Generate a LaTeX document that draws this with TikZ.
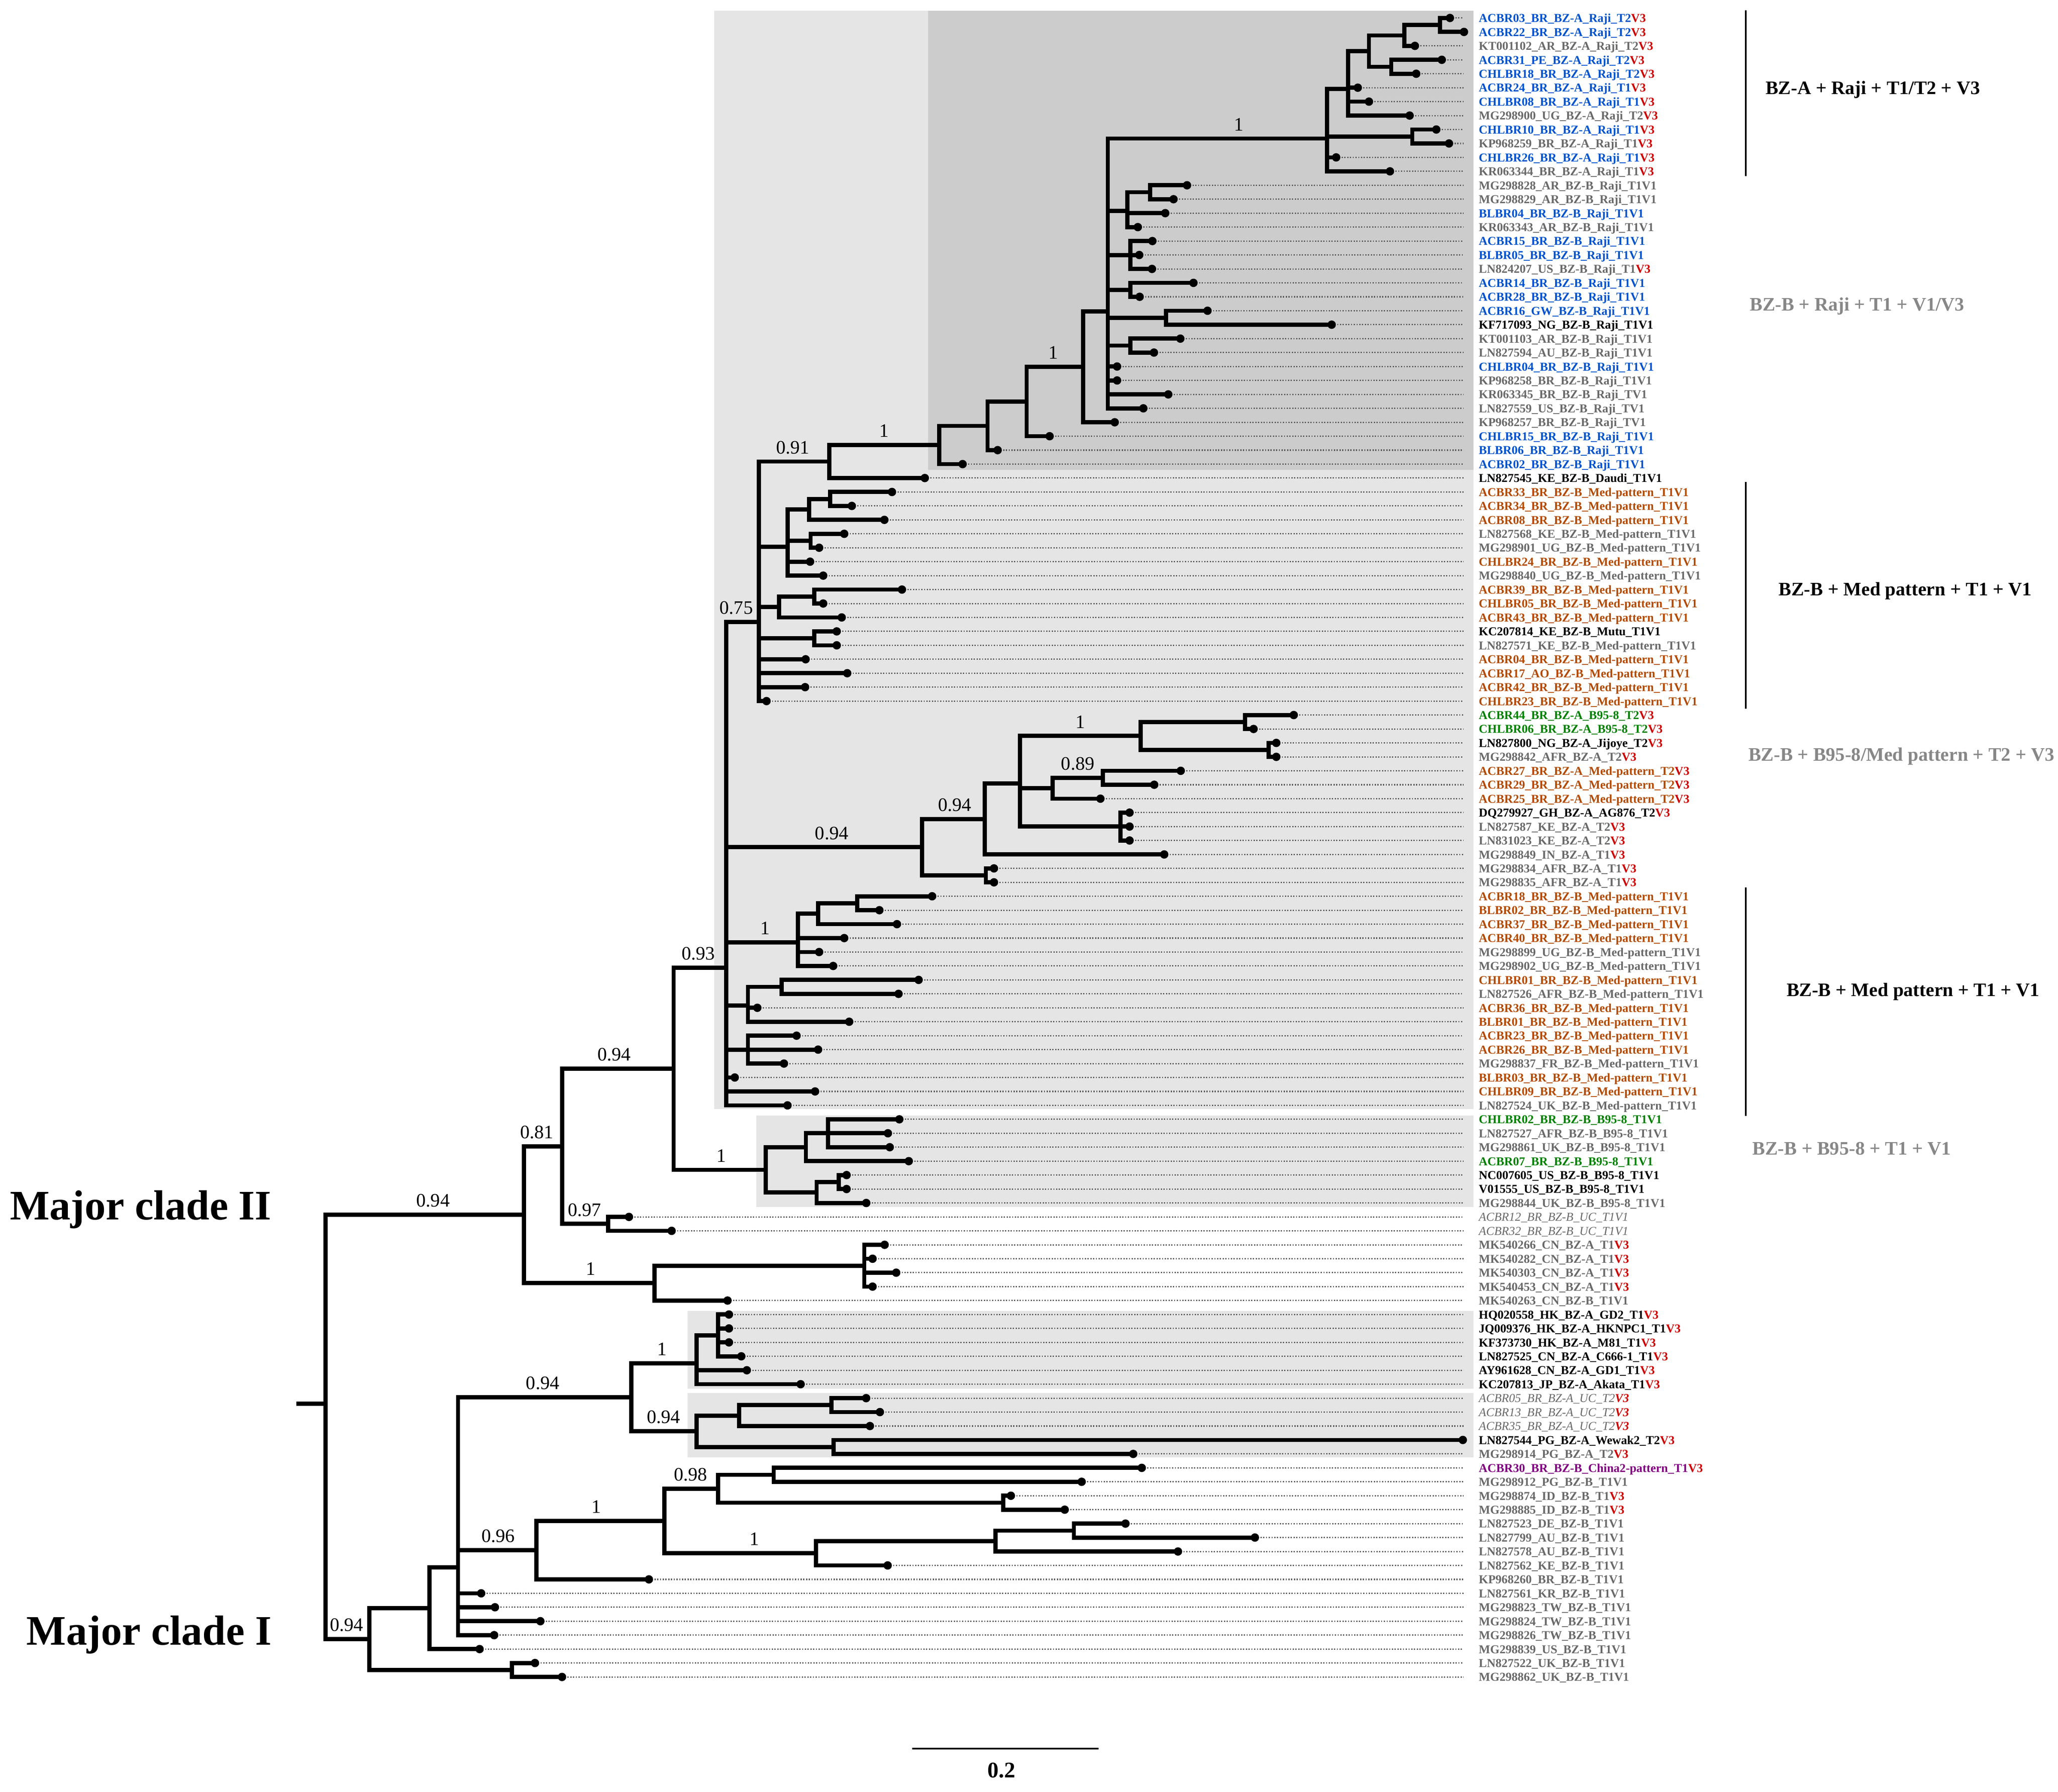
\documentclass[tikz,border=0pt]{standalone}
\usepackage{fontspec}
\setmainfont{Liberation Serif}
\definecolor{cblue}{RGB}{0,82,204}
\definecolor{cgray}{RGB}{105,105,105}
\definecolor{corange}{RGB}{178,74,4}
\definecolor{cgreen}{RGB}{0,128,0}
\definecolor{cpurple}{RGB}{128,0,128}
\definecolor{cred}{RGB}{206,0,0}
\definecolor{anngray}{RGB}{135,135,135}
\definecolor{boxlight}{RGB}{229,229,229}
\definecolor{boxdark}{RGB}{204,204,204}
\tikzset{
 br/.style={line width=3.2pt, line join=miter, line cap=butt},
 dotln/.style={black!65, line width=1pt, dash pattern=on 0.9pt off 1.2pt},
 lab/.style={anchor=base west, inner sep=0pt, font=\bfseries\fontsize{9.2}{10}\selectfont},
 lblue/.style={text=cblue},
 lgray/.style={text=cgray},
 lblack/.style={text=black},
 lorange/.style={text=corange},
 lgreen/.style={text=cgreen},
 lpurple/.style={text=cpurple},
 luc/.style={text=cgray, font=\itshape\fontsize{9.2}{10}\selectfont},
 bsl/.style={anchor=base, inner sep=0pt, font=\fontsize{14.5}{16}\selectfont},
 ann/.style={anchor=base west, inner sep=0pt, font=\bfseries\fontsize{14.5}{16}\selectfont},
 annbar/.style={line width=1.4pt},
 majlab/.style={anchor=base east, inner sep=0pt, font=\bfseries\fontsize{32}{38}\selectfont},
}
\newcommand\myRedV{\textcolor{cred}{\bfseries V3}}
\newcommand\leafx[4]{%
  \coordinate (l#1) at (#2,{13.7+(#1-1)*10.62});
  \coordinate (de#1) at (1115,{13.7+(#1-1)*10.62});
  \draw[dotln] (l#1) -- (de#1);
  \node[lab,#3] (lab#1) at (1126.5,{13.7+(#1-1)*10.62+3.2}) {#4};
}
\newcommand\innode[3]{\coordinate (#1) at (#2,{13.7+(#3-1)*10.62});}
\newcommand\brs[2]{\foreach \kid in {#2}{\draw[br] (#1) |- (\kid);}}
\newcommand\bslab[4]{\node[bsl] (#1) at (#2,{13.7+(#3-1)*10.62-6}) {#4};}
\begin{document}
\catcode`\_=12
\begin{tikzpicture}[x=1pt,y=-1pt]
\fill[white] (0,0) rectangle (1568,1365);
\path[use as bounding box] (0,0) rectangle (1568,1365);
% shaded clade boxes
\fill[boxlight] (544,8.2) rectangle (1122.5,844.9);
\fill[boxdark] (707,8.2) rectangle (1122.5,358);
\fill[boxlight] (576.2,849.6) rectangle (1122.5,919.6);
\fill[boxlight] (524,998.5) rectangle (1122.5,1058);
\fill[boxlight] (524,1061.2) rectangle (1122.5,1110.3);
% leaves
\leafx{1}{1104.7}{lblue}{ACBR03_BR_BZ-A_Raji_T2\myRedV}
\leafx{2}{1115.4}{lblue}{ACBR22_BR_BZ-A_Raji_T2\myRedV}
\leafx{3}{1078}{lgray}{KT001102_AR_BZ-A_Raji_T2\myRedV}
\leafx{4}{1098.5}{lblue}{ACBR31_PE_BZ-A_Raji_T2\myRedV}
\leafx{5}{1079}{lblue}{CHLBR18_BR_BZ-A_Raji_T2\myRedV}
\leafx{6}{1034.5}{lblue}{ACBR24_BR_BZ-A_Raji_T1\myRedV}
\leafx{7}{1043}{lblue}{CHLBR08_BR_BZ-A_Raji_T1\myRedV}
\leafx{8}{1074}{lgray}{MG298900_UG_BZ-A_Raji_T2\myRedV}
\leafx{9}{1094.3}{lblue}{CHLBR10_BR_BZ-A_Raji_T1\myRedV}
\leafx{10}{1104}{lgray}{KP968259_BR_BZ-A_Raji_T1\myRedV}
\leafx{11}{1018}{lblue}{CHLBR26_BR_BZ-A_Raji_T1\myRedV}
\leafx{12}{1059}{lgray}{KR063344_BR_BZ-A_Raji_T1\myRedV}
\leafx{13}{904.4}{lgray}{MG298828_AR_BZ-B_Raji_T1V1}
\leafx{14}{894.1}{lgray}{MG298829_AR_BZ-B_Raji_T1V1}
\leafx{15}{887.8}{lblue}{BLBR04_BR_BZ-B_Raji_T1V1}
\leafx{16}{866.9}{lgray}{KR063343_AR_BZ-B_Raji_T1V1}
\leafx{17}{878}{lblue}{ACBR15_BR_BZ-B_Raji_T1V1}
\leafx{18}{868}{lblue}{BLBR05_BR_BZ-B_Raji_T1V1}
\leafx{19}{877.7}{lgray}{LN824207_US_BZ-B_Raji_T1\myRedV}
\leafx{20}{909.3}{lblue}{ACBR14_BR_BZ-B_Raji_T1V1}
\leafx{21}{868.3}{lblue}{ACBR28_BR_BZ-B_Raji_T1V1}
\leafx{22}{920}{lblue}{ACBR16_GW_BZ-B_Raji_T1V1}
\leafx{23}{1014.6}{lblack}{KF717093_NG_BZ-B_Raji_T1V1}
\leafx{24}{899.3}{lgray}{KT001103_AR_BZ-B_Raji_T1V1}
\leafx{25}{879.2}{lgray}{LN827594_AU_BZ-B_Raji_T1V1}
\leafx{26}{851.1}{lblue}{CHLBR04_BR_BZ-B_Raji_T1V1}
\leafx{27}{851.1}{lgray}{KP968258_BR_BZ-B_Raji_T1V1}
\leafx{28}{890.1}{lgray}{KR063345_BR_BZ-B_Raji_TV1}
\leafx{29}{871.1}{lgray}{LN827559_US_BZ-B_Raji_TV1}
\leafx{30}{849.3}{lgray}{KP968257_BR_BZ-B_Raji_TV1}
\leafx{31}{799.7}{lblue}{CHLBR15_BR_BZ-B_Raji_T1V1}
\leafx{32}{760.1}{lblue}{BLBR06_BR_BZ-B_Raji_T1V1}
\leafx{33}{733.4}{lblue}{ACBR02_BR_BZ-B_Raji_T1V1}
\leafx{34}{704.6}{lblack}{LN827545_KE_BZ-B_Daudi_T1V1}
\leafx{35}{679.6}{lorange}{ACBR33_BR_BZ-B_Med-pattern_T1V1}
\leafx{36}{649}{lorange}{ACBR34_BR_BZ-B_Med-pattern_T1V1}
\leafx{37}{673.8}{lorange}{ACBR08_BR_BZ-B_Med-pattern_T1V1}
\leafx{38}{643.2}{lgray}{LN827568_KE_BZ-B_Med-pattern_T1V1}
\leafx{39}{624.1}{lgray}{MG298901_UG_BZ-B_Med-pattern_T1V1}
\leafx{40}{617.2}{lorange}{CHLBR24_BR_BZ-B_Med-pattern_T1V1}
\leafx{41}{627.2}{lgray}{MG298840_UG_BZ-B_Med-pattern_T1V1}
\leafx{42}{687.2}{lorange}{ACBR39_BR_BZ-B_Med-pattern_T1V1}
\leafx{43}{627.2}{lorange}{CHLBR05_BR_BZ-B_Med-pattern_T1V1}
\leafx{44}{641.3}{lorange}{ACBR43_BR_BZ-B_Med-pattern_T1V1}
\leafx{45}{637.5}{lblack}{KC207814_KE_BZ-B_Mutu_T1V1}
\leafx{46}{637.5}{lgray}{LN827571_KE_BZ-B_Med-pattern_T1V1}
\leafx{47}{613.8}{lorange}{ACBR04_BR_BZ-B_Med-pattern_T1V1}
\leafx{48}{645.5}{lorange}{ACBR17_AO_BZ-B_Med-pattern_T1V1}
\leafx{49}{613.4}{lorange}{ACBR42_BR_BZ-B_Med-pattern_T1V1}
\leafx{50}{584}{lorange}{CHLBR23_BR_BZ-B_Med-pattern_T1V1}
\leafx{51}{985.7}{lgreen}{ACBR44_BR_BZ-A_B95-8_T2\myRedV}
\leafx{52}{955.1}{lgreen}{CHLBR06_BR_BZ-A_B95-8_T2\myRedV}
\leafx{53}{972.4}{lblack}{LN827800_NG_BZ-A_Jijoye_T2\myRedV}
\leafx{54}{972.4}{lgray}{MG298842_AFR_BZ-A_T2\myRedV}
\leafx{55}{899.6}{lorange}{ACBR27_BR_BZ-A_Med-pattern_T2\myRedV}
\leafx{56}{879.4}{lorange}{ACBR29_BR_BZ-A_Med-pattern_T2\myRedV}
\leafx{57}{838.4}{lorange}{ACBR25_BR_BZ-A_Med-pattern_T2\myRedV}
\leafx{58}{860.6}{lblack}{DQ279927_GH_BZ-A_AG876_T2\myRedV}
\leafx{59}{860.6}{lgray}{LN827587_KE_BZ-A_T2\myRedV}
\leafx{60}{860.6}{lgray}{LN831023_KE_BZ-A_T2\myRedV}
\leafx{61}{887}{lgray}{MG298849_IN_BZ-A_T1\myRedV}
\leafx{62}{757.3}{lgray}{MG298834_AFR_BZ-A_T1\myRedV}
\leafx{63}{757.3}{lgray}{MG298835_AFR_BZ-A_T1\myRedV}
\leafx{64}{710.2}{lorange}{ACBR18_BR_BZ-B_Med-pattern_T1V1}
\leafx{65}{670}{lorange}{BLBR02_BR_BZ-B_Med-pattern_T1V1}
\leafx{66}{683.4}{lorange}{ACBR37_BR_BZ-B_Med-pattern_T1V1}
\leafx{67}{643.2}{lorange}{ACBR40_BR_BZ-B_Med-pattern_T1V1}
\leafx{68}{624.1}{lgray}{MG298899_UG_BZ-B_Med-pattern_T1V1}
\leafx{69}{634.8}{lgray}{MG298902_UG_BZ-B_Med-pattern_T1V1}
\leafx{70}{699.9}{lorange}{CHLBR01_BR_BZ-B_Med-pattern_T1V1}
\leafx{71}{684.6}{lgray}{LN827526_AFR_BZ-B_Med-pattern_T1V1}
\leafx{72}{577}{lorange}{ACBR36_BR_BZ-B_Med-pattern_T1V1}
\leafx{73}{647}{lorange}{BLBR01_BR_BZ-B_Med-pattern_T1V1}
\leafx{74}{606.9}{lorange}{ACBR23_BR_BZ-B_Med-pattern_T1V1}
\leafx{75}{623.3}{lorange}{ACBR26_BR_BZ-B_Med-pattern_T1V1}
\leafx{76}{597.3}{lgray}{MG298837_FR_BZ-B_Med-pattern_T1V1}
\leafx{77}{559.8}{lorange}{BLBR03_BR_BZ-B_Med-pattern_T1V1}
\leafx{78}{621}{lorange}{CHLBR09_BR_BZ-B_Med-pattern_T1V1}
\leafx{79}{600}{lgray}{LN827524_UK_BZ-B_Med-pattern_T1V1}
\leafx{80}{685.2}{lgreen}{CHLBR02_BR_BZ-B_B95-8_T1V1}
\leafx{81}{676.5}{lgray}{LN827527_AFR_BZ-B_B95-8_T1V1}
\leafx{82}{677.9}{lgray}{MG298861_UK_BZ-B_B95-8_T1V1}
\leafx{83}{692.4}{lgreen}{ACBR07_BR_BZ-B_B95-8_T1V1}
\leafx{84}{645}{lblack}{NC007605_US_BZ-B_B95-8_T1V1}
\leafx{85}{645}{lblack}{V01555_US_BZ-B_B95-8_T1V1}
\leafx{86}{660}{lgray}{MG298844_UK_BZ-B_B95-8_T1V1}
\leafx{87}{479.2}{luc}{ACBR12_BR_BZ-B_UC_T1V1}
\leafx{88}{511.7}{luc}{ACBR32_BR_BZ-B_UC_T1V1}
\leafx{89}{674}{lgray}{MK540266_CN_BZ-A_T1\myRedV}
\leafx{90}{664.8}{lgray}{MK540282_CN_BZ-A_T1\myRedV}
\leafx{91}{682.8}{lgray}{MK540303_CN_BZ-A_T1\myRedV}
\leafx{92}{664.8}{lgray}{MK540453_CN_BZ-A_T1\myRedV}
\leafx{93}{554.3}{lgray}{MK540263_CN_BZ-B_T1V1}
\leafx{94}{555.4}{lblack}{HQ020558_HK_BZ-A_GD2_T1\myRedV}
\leafx{95}{555.4}{lblack}{JQ009376_HK_BZ-A_HKNPC1_T1\myRedV}
\leafx{96}{555.4}{lblack}{KF373730_HK_BZ-A_M81_T1\myRedV}
\leafx{97}{564.8}{lblack}{LN827525_CN_BZ-A_C666-1_T1\myRedV}
\leafx{98}{569}{lblack}{AY961628_CN_BZ-A_GD1_T1\myRedV}
\leafx{99}{610}{lblack}{KC207813_JP_BZ-A_Akata_T1\myRedV}
\leafx{100}{659.9}{luc}{ACBR05_BR_BZ-A_UC_T2\myRedV}
\leafx{101}{670.4}{luc}{ACBR13_BR_BZ-A_UC_T2\myRedV}
\leafx{102}{662.8}{luc}{ACBR35_BR_BZ-A_UC_T2\myRedV}
\leafx{103}{1114.5}{lblack}{LN827544_PG_BZ-A_Wewak2_T2\myRedV}
\leafx{104}{863.4}{lgray}{MG298914_PG_BZ-A_T2\myRedV}
\leafx{105}{869.9}{lpurple}{ACBR30_BR_BZ-B_China2-pattern_T1\myRedV}
\leafx{106}{824.1}{lgray}{MG298912_PG_BZ-B_T1V1}
\leafx{107}{770.2}{lgray}{MG298874_ID_BZ-B_T1\myRedV}
\leafx{108}{811.2}{lgray}{MG298885_ID_BZ-B_T1\myRedV}
\leafx{109}{857.5}{lgray}{LN827523_DE_BZ-B_T1V1}
\leafx{110}{956.1}{lgray}{LN827799_AU_BZ-B_T1V1}
\leafx{111}{897.5}{lgray}{LN827578_AU_BZ-B_T1V1}
\leafx{112}{676.3}{lgray}{LN827562_KE_BZ-B_T1V1}
\leafx{113}{494.4}{lgray}{KP968260_BR_BZ-B_T1V1}
\leafx{114}{366.6}{lgray}{LN827561_KR_BZ-B_T1V1}
\leafx{115}{377.1}{lgray}{MG298823_TW_BZ-B_T1V1}
\leafx{116}{411.7}{lgray}{MG298824_TW_BZ-B_T1V1}
\leafx{117}{376.5}{lgray}{MG298826_TW_BZ-B_T1V1}
\leafx{118}{365.4}{lgray}{MG298839_US_BZ-B_T1V1}
\leafx{119}{407.6}{lgray}{LN827522_UK_BZ-B_T1V1}
\leafx{120}{428.2}{lgray}{MG298862_UK_BZ-B_T1V1}
% internal nodes
\innode{a1}{1097}{1.5}
\innode{a2}{1070}{2.25}
\innode{a3}{1060}{4.5}
\innode{a4}{1043}{3.375}
\innode{a5}{1027}{6.094}
\innode{a6}{1076}{9.5}
\innode{a7}{1011}{9.648}
\innode{b1}{876.3}{13.5}
\innode{b2}{859}{14.833}
\innode{b3}{861.1}{18}
\innode{b4}{861.1}{20.5}
\innode{b5}{888.4}{22.5}
\innode{b6}{861.1}{24.5}
\innode{X}{844}{22.048}
\innode{c1}{825.2}{26.024}
\innode{c2}{782.2}{28.512}
\innode{c3}{752.4}{30.256}
\innode{c4}{715.6}{31.628}
\innode{c5}{631.8}{32.814}
\innode{d1}{632.5}{35.5}
\innode{d2}{616.4}{36.25}
\innode{d3}{617.6}{38.5}
\innode{d4}{600}{38.9375}
\innode{d5}{620.3}{42.5}
\innode{d6}{593.5}{43.25}
\innode{d7}{620.3}{45.5}
\innode{e}{578.2}{44.313}
\innode{f1}{948.6}{51.5}
\innode{f2}{966.6}{53.5}
\innode{f3}{869}{52.5}
\innode{f4}{840.3}{55.5}
\innode{f5}{802.1}{56.25}
\innode{f6}{853.7}{59}
\innode{f7}{777.2}{55.917}
\innode{f8}{750.4}{58.458}
\innode{f9}{751.1}{62.5}
\innode{f10}{702.6}{60.479}
\innode{g1}{653.2}{64.5}
\innode{g2}{623.3}{65.25}
\innode{g3}{608}{67.3125}
\innode{g4}{595.4}{70.5}
\innode{g5}{569.8}{71.833}
\innode{g6}{569.8}{75}
\innode{h}{553.3}{69.117}
\innode{i1}{630.9}{81}
\innode{i2}{614}{82}
\innode{i3}{639.1}{84.5}
\innode{i4}{622.2}{85.25}
\innode{i5}{583.4}{83.625}
\innode{j}{513.2}{76.371}
\innode{k1}{463.2}{87.5}
\innode{m}{428.4}{81.936}
\innode{n1}{658.5}{90.5}
\innode{n2}{498.6}{91.75}
\innode{p}{399.3}{86.843}
\innode{q1}{547.2}{95.5}
\innode{q2}{530.8}{97.5}
\innode{q3}{633.5}{100.5}
\innode{q4}{563.1}{101.25}
\innode{q5}{635.2}{103.5}
\innode{q6}{530.8}{102.375}
\innode{q7}{480.9}{99.9375}
\innode{r1}{589.5}{105.5}
\innode{r2}{764.3}{107.5}
\innode{r3}{547.2}{106.5}
\innode{r4}{818.2}{109.5}
\innode{r5}{758.4}{110.25}
\innode{r6}{621.7}{111.125}
\innode{r7}{506.2}{108.8125}
\innode{r8}{408.8}{110.906}
\innode{s1}{349}{112.141}
\innode{s2}{327.3}{115.07}
\innode{s3}{390}{119.5}
\innode{cI}{281.5}{117.285}
\coordinate (root) at (248.1,1069.4);
\coordinate (rstub) at (225.8,1069.4);
% branches
\draw[br] (rstub) -- (root);
\brs{root}{p,cI}
\brs{p}{m,n2}
\brs{m}{j,k1}
\brs{j}{h,i5}
\brs{h}{e,f10,g3,g5,g6,l77,l78,l79}
\brs{e}{c5,d4,d6,d7,l47,l48,l49,l50}
\brs{c5}{c4,l34}
\brs{c4}{c3,l33}
\brs{c3}{c2,l32}
\brs{c2}{c1,l31}
\brs{c1}{X,l30}
\brs{X}{a7,b2,b3,b4,b5,b6,l26,l27,l28,l29}
\brs{a7}{a5,a6,l11,l12}
\brs{a5}{a4,l6,l7,l8}
\brs{a4}{a2,a3}
\brs{a2}{a1,l3}
\brs{a1}{l1,l2}
\brs{a3}{l4,l5}
\brs{a6}{l9,l10}
\brs{b2}{b1,l15,l16}
\brs{b1}{l13,l14}
\brs{b3}{l17,l18,l19}
\brs{b4}{l20,l21}
\brs{b5}{l22,l23}
\brs{b6}{l24,l25}
\brs{d4}{d2,d3,l40,l41}
\brs{d2}{d1,l37}
\brs{d1}{l35,l36}
\brs{d3}{l38,l39}
\brs{d6}{d5,l44}
\brs{d5}{l42,l43}
\brs{d7}{l45,l46}
\brs{f10}{f8,f9}
\brs{f8}{f7,l61}
\brs{f7}{f3,f5,f6}
\brs{f3}{f1,f2}
\brs{f1}{l51,l52}
\brs{f2}{l53,l54}
\brs{f5}{f4,l57}
\brs{f4}{l55,l56}
\brs{f6}{l58,l59,l60}
\brs{f9}{l62,l63}
\brs{g3}{g2,l67,l68,l69}
\brs{g2}{g1,l66}
\brs{g1}{l64,l65}
\brs{g5}{g4,l72,l73}
\brs{g4}{l70,l71}
\brs{g6}{l74,l75,l76}
\brs{i5}{i2,i4}
\brs{i2}{i1,l83}
\brs{i1}{l80,l81,l82}
\brs{i4}{i3,l86}
\brs{i3}{l84,l85}
\brs{k1}{l87,l88}
\brs{n2}{n1,l93}
\brs{n1}{l89,l90,l91,l92}
\brs{cI}{s2,s3}
\brs{s2}{s1,l118}
\brs{s1}{q7,r8,l114,l115,l116,l117}
\brs{q7}{q2,q6}
\brs{q2}{q1,l98,l99}
\brs{q1}{l94,l95,l96,l97}
\brs{q6}{q4,q5}
\brs{q4}{q3,l102}
\brs{q3}{l100,l101}
\brs{q5}{l103,l104}
\brs{r8}{r7,l113}
\brs{r7}{r3,r6}
\brs{r3}{r1,r2}
\brs{r1}{l105,l106}
\brs{r2}{l107,l108}
\brs{r6}{r5,l112}
\brs{r5}{r4,l111}
\brs{r4}{l109,l110}
\brs{s3}{l119,l120}
% tip dots
\foreach \i in {1,...,120} {\fill (l\i) circle [radius=3.2pt];}
% support values
\bslab{bs1}{944}{9.648}{1}
\bslab{bs2}{802.6}{26.024}{1}
\bslab{bs3}{673.7}{31.628}{1}
\bslab{bs4}{604}{32.814}{0.91}
\bslab{bs5}{561}{44.313}{0.75}
\bslab{bs6}{532}{69.117}{0.93}
\bslab{bs7}{633.7}{60.479}{0.94}
\bslab{bs8}{727.4}{58.458}{0.94}
\bslab{bs9}{823}{52.5}{1}
\bslab{bs10}{821.2}{55.5}{0.89}
\bslab{bs11}{583.1}{67.3125}{1}
\bslab{bs12}{468}{76.371}{0.94}
\bslab{bs13}{549.5}{83.625}{1}
\bslab{bs14}{409}{81.936}{0.81}
\bslab{bs15}{445.3}{87.5}{0.97}
\bslab{bs16}{450.2}{91.75}{1}
\bslab{bs17}{330}{86.843}{0.94}
\bslab{bs18}{413.5}{99.9375}{0.94}
\bslab{bs19}{504.4}{97.5}{1}
\bslab{bs20}{505.6}{102.375}{0.94}
\bslab{bs21}{379.5}{110.906}{0.96}
\bslab{bs22}{454.5}{108.8125}{1}
\bslab{bs23}{526.1}{106.5}{0.98}
\bslab{bs24}{574.8}{111.125}{1}
\bslab{bs25}{264}{117.285}{0.94}
% clade annotations
\coordinate (bar1a) at (1330,8);   \coordinate (bar1b) at (1330,134);
\coordinate (bar2a) at (1330,367); \coordinate (bar2b) at (1330,540);
\coordinate (bar3a) at (1330,676); \coordinate (bar3b) at (1330,850);
\draw[annbar] (bar1a) -- (bar1b);
\draw[annbar] (bar2a) -- (bar2b);
\draw[annbar] (bar3a) -- (bar3b);
\node[ann] (ann1) at (1345,71.8) {BZ-A + Raji + T1/T2 + V3};
\node[ann,text=anngray] (ann2) at (1333,236.8) {BZ-B + Raji + T1 + V1/V3};
\node[ann] (ann3) at (1355,453.8) {BZ-B + Med pattern + T1 + V1};
\node[ann,text=anngray] (ann4) at (1332,579.8) {BZ-B + B95-8/Med pattern + T2 + V3};
\node[ann] (ann5) at (1361,758.8) {BZ-B + Med pattern + T1 + V1};
\node[ann,text=anngray] (ann6) at (1335,879.8) {BZ-B + B95-8 + T1 + V1};
% major clades
\node[majlab] (mc2) at (207,929) {Major clade II};
\node[majlab] (mc1) at (207,1253) {Major clade I};
% scale bar
\coordinate (sbA) at (695,1332);
\coordinate (sbB) at (837,1332);
\draw[line width=1.3pt] (sbA) -- (sbB);
\node[anchor=base, inner sep=0pt, font=\bfseries\fontsize{17}{19}\selectfont] (sbl) at (763,1354) {0.2};
\end{tikzpicture}
\end{document}
